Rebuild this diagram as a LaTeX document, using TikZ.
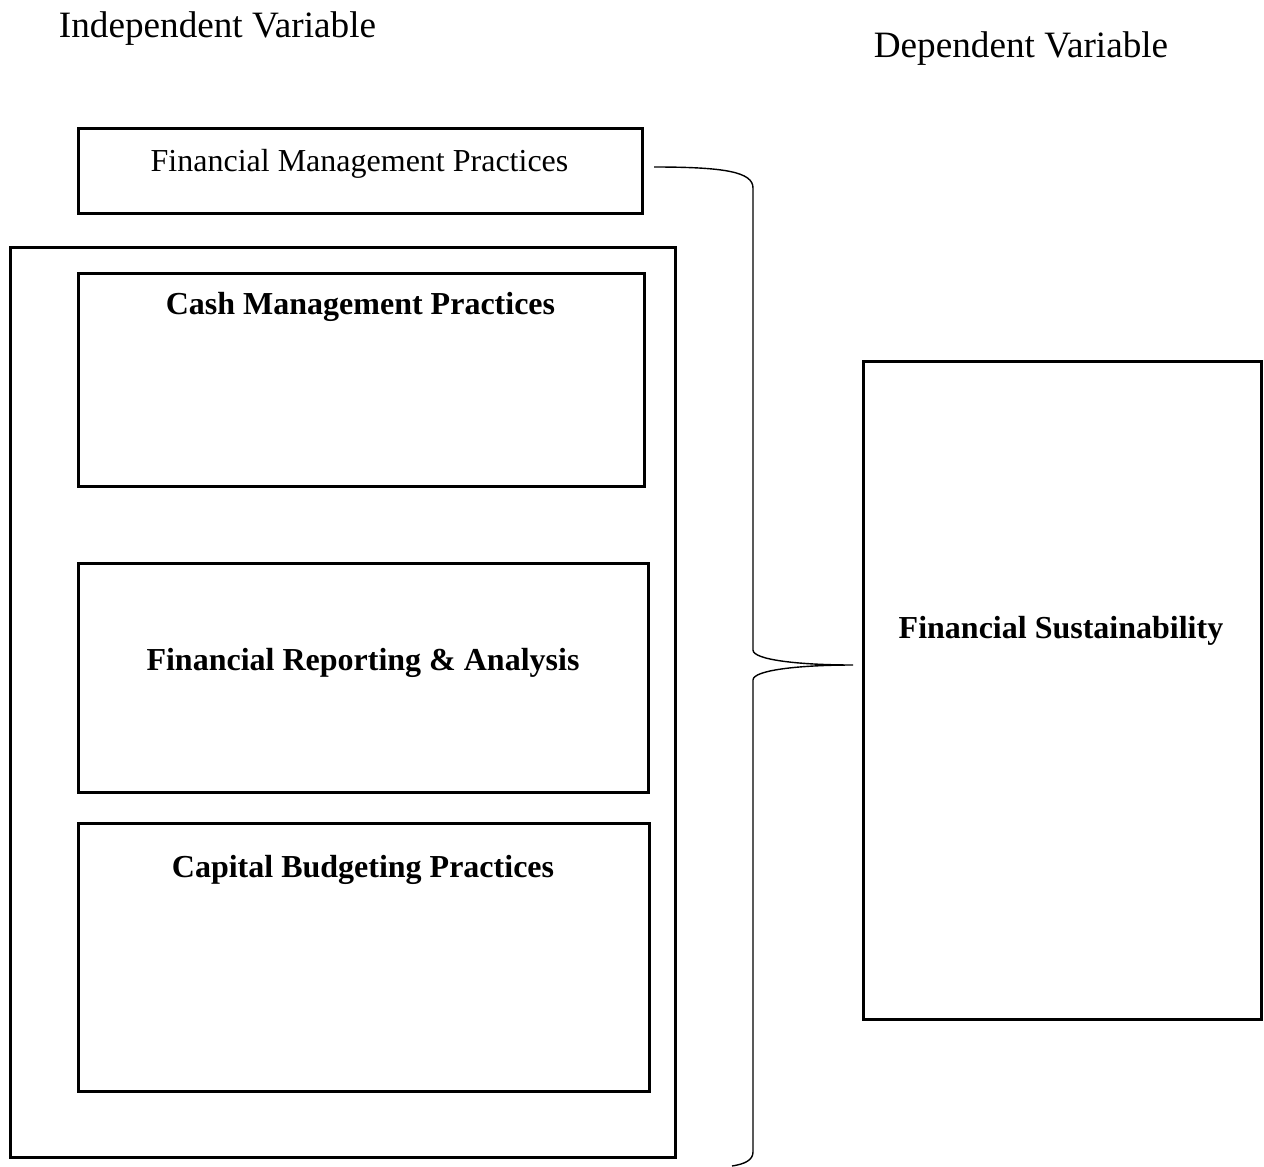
\documentclass[tikz,border=0pt]{standalone}
\usepackage{fontspec}
\setmainfont{Liberation Serif}
\usetikzlibrary{fit}
\begin{document}
\begin{tikzpicture}[x=0.5pt,y=-0.5pt,
  box/.style={draw,line width=1.5pt,inner sep=0pt},
  hdr/.style={font=\fontsize{18.6}{22}\selectfont,anchor=base,inner sep=0pt},
  lbl/.style={font=\fontsize{16}{19}\selectfont,anchor=base,inner sep=0pt},
  blbl/.style={font=\fontsize{16}{19}\selectfont\bfseries,anchor=base,inner sep=0pt},
  brace/.style={line width=0.7pt}]
\useasboundingbox (0,0) rectangle (1264,1167);
\node[hdr] (indep) at (217.5,37) {Independent Variable};
\node[hdr] (dep) at (1021,57) {Dependent Variable};
\node[box,fit={(78,128)(642,213)}] (fmpbox) {};
\node[lbl] (fmp) at (359.5,171) {Financial Management Practices};
\node[box,fit={(10,247)(675,1157)}] (outer) {};
\node[box,fit={(78,273)(644,486)}] (cashbox) {};
\node[blbl] (cash) at (360.5,314) {Cash Management Practices};
\node[box,fit={(78,563)(648,792)}] (repbox) {};
\node[blbl] (rep) at (363,670) {Financial Reporting \& Analysis};
\node[box,fit={(78,823)(649,1091)}] (capbox) {};
\node[blbl] (cap) at (363,877) {Capital Budgeting Practices};
\node[box,fit={(863,361)(1261,1019)}] (fsbox) {};
\node[blbl] (fs) at (1061,638) {Financial Sustainability};
\coordinate (bt) at (654,167);
\coordinate (tip) at (853,665);
\coordinate (bb) at (732,1166);
\draw[brace] (bt) .. controls (725,167) and (753,172) .. (753,188) -- (753,650)
  .. controls (753,660) and (800,665) .. (tip)
  .. controls (800,665) and (753,670) .. (753,680) -- (753,1152)
  .. controls (753,1160) and (745,1164) .. (bb);
\end{tikzpicture}
\end{document}
